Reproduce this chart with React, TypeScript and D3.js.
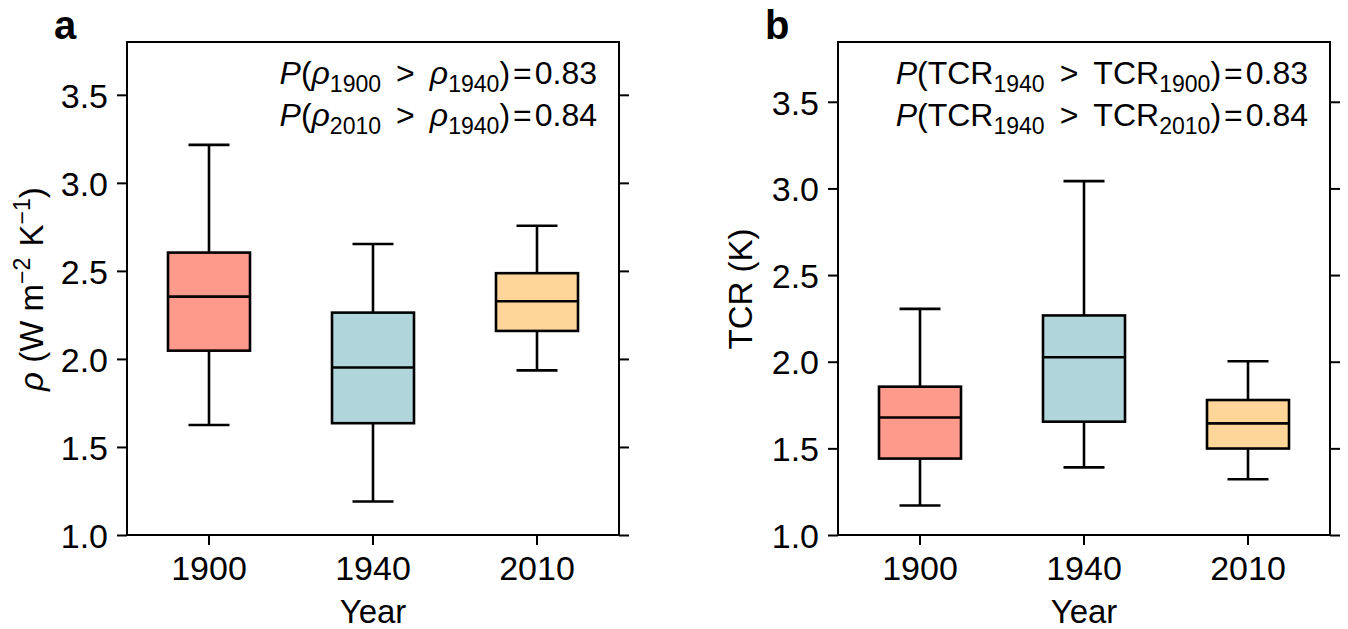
import React, { useEffect, useRef } from 'react';
import * as d3 from 'd3';

const years = ['1900', '1940', '2010'];
const boxColors = ['#FE9A8B', '#B0D6DC', '#FFD699'];
const yTicks = [1.0, 1.5, 2.0, 2.5, 3.0, 3.5];

// panel a: rho (W m-2 K-1), whisker ends, quartiles, median
const rhoLow = [1.625, 1.19, 1.935];
const rhoQ1 = [2.047, 1.635, 2.159];
const rhoMedian = [2.354, 1.951, 2.328];
const rhoQ3 = [2.604, 2.263, 2.487];
const rhoHigh = [3.216, 2.653, 2.756];

// panel b: TCR (K)
const tcrLow = [1.17, 1.39, 1.322];
const tcrQ1 = [1.441, 1.654, 1.499];
const tcrMedian = [1.678, 2.026, 1.644];
const tcrQ3 = [1.856, 2.267, 1.779];
const tcrHigh = [2.305, 3.042, 2.003];

const FONT = 'Liberation Sans, Arial, Helvetica, sans-serif';

// rich text parts: t = text, i = italic, sub / sup, dx = extra gap
const rhoLabel = [
  { t: 'ρ', i: true }, { t: ' (W m' }, { t: '−2', sup: true }, { t: ' K', dx: 2 }, { t: '−1', sup: true }, { t: ')' }
];
const tcrLabel = [{ t: 'TCR (K)' }];

const rhoNotes = [
  [{ t: 'P', i: true }, { t: '(' }, { t: 'ρ', i: true }, { t: '1900', sub: true }, { t: '>', dx: 15 },
   { t: 'ρ', i: true, dx: 15 }, { t: '1940', sub: true }, { t: ')' }, { t: '=', dx: 3 }, { t: '0.83', dx: 3 }],
  [{ t: 'P', i: true }, { t: '(' }, { t: 'ρ', i: true }, { t: '2010', sub: true }, { t: '>', dx: 15 },
   { t: 'ρ', i: true, dx: 15 }, { t: '1940', sub: true }, { t: ')' }, { t: '=', dx: 3 }, { t: '0.84', dx: 3 }]
];
const tcrNotes = [
  [{ t: 'P', i: true }, { t: '(TCR' }, { t: '1940', sub: true }, { t: '>', dx: 15 },
   { t: 'TCR', dx: 15 }, { t: '1900', sub: true }, { t: ')' }, { t: '=', dx: 3 }, { t: '0.83', dx: 3 }],
  [{ t: 'P', i: true }, { t: '(TCR' }, { t: '1940', sub: true }, { t: '>', dx: 15 },
   { t: 'TCR', dx: 15 }, { t: '2010', sub: true }, { t: ')' }, { t: '=', dx: 3 }, { t: '0.84', dx: 3 }]
];

function addRich(text, parts, size, subScale) {
  let shift = 0;
  parts.forEach(p => {
    const target = p.sub ? size * 0.24 : p.sup ? -size * 0.4 : 0;
    const ts = text.append('tspan')
      .attr('dy', target - shift)
      .style('font-size', (p.sub || p.sup ? size * subScale : size) + 'px')
      .text(p.t);
    if (p.i) ts.style('font-style', 'italic');
    if (p.dx) ts.attr('dx', p.dx);
    shift = target;
  });
}

function drawPanel(svg, o) {
  const top = 42, bottom = 535;
  const g = svg.append('g');

  const x = d3.scaleBand().domain(years).range([o.left, o.right]);
  const y = d3.scaleLinear().domain([1, o.yMax]).range([bottom, top]);
  const bw = x.bandwidth();

  // boxes
  years.forEach((yr, i) => {
    const cx = x(yr) + bw / 2;
    const bx = g.append('g').attr('stroke', '#000').attr('stroke-width', 2.6);
    bx.append('line').attr('x1', cx).attr('x2', cx).attr('y1', y(o.low[i])).attr('y2', y(o.q1[i]));
    bx.append('line').attr('x1', cx).attr('x2', cx).attr('y1', y(o.q3[i])).attr('y2', y(o.high[i]));
    bx.append('line').attr('x1', cx - bw * 0.125).attr('x2', cx + bw * 0.125).attr('y1', y(o.low[i])).attr('y2', y(o.low[i]));
    bx.append('line').attr('x1', cx - bw * 0.125).attr('x2', cx + bw * 0.125).attr('y1', y(o.high[i])).attr('y2', y(o.high[i]));
    bx.append('rect')
      .attr('x', cx - bw * 0.25).attr('width', bw * 0.5)
      .attr('y', y(o.q3[i])).attr('height', y(o.q1[i]) - y(o.q3[i]))
      .attr('fill', boxColors[i]);
    bx.append('line').attr('x1', cx - bw * 0.25).attr('x2', cx + bw * 0.25).attr('y1', y(o.median[i])).attr('y2', y(o.median[i]));
  });

  // axes
  const left = g.append('g').attr('transform', `translate(${o.left},0)`)
    .call(d3.axisLeft(y).tickValues(yTicks).tickFormat(d3.format('.1f')).tickSize(10).tickPadding(9));
  const right = g.append('g').attr('transform', `translate(${o.right},0)`)
    .call(d3.axisRight(y).tickValues(yTicks).tickFormat(() => '').tickSize(10));
  const bot = g.append('g').attr('transform', `translate(0,${bottom})`)
    .call(d3.axisBottom(x).tickSize(10).tickPadding(11));
  [left, right, bot].forEach(a => {
    a.attr('font-size', null).attr('font-family', null);
    a.select('.domain').remove();
    a.selectAll('line').attr('stroke', '#000').attr('stroke-width', 2);
    a.selectAll('text').attr('fill', '#000').style('font-size', '34px');
  });
  left.selectAll('text').attr('dy', '0.36em');

  g.append('rect')
    .attr('x', o.left).attr('y', top)
    .attr('width', o.right - o.left).attr('height', bottom - top)
    .attr('fill', 'none').attr('stroke', '#000').attr('stroke-width', 2);

  g.append('text')
    .attr('x', (o.left + o.right) / 2).attr('y', 623)
    .attr('text-anchor', 'middle').style('font-size', '33px')
    .text('Year');

  const yl = g.append('text')
    .attr('transform', `translate(${o.labelX},289) rotate(-90)`)
    .attr('text-anchor', 'middle');
  addRich(yl, o.label, 33, 0.7);

  o.notes.forEach((n, k) => {
    const t = g.append('text')
      .attr('x', o.right - 22).attr('y', 84 + k * 42)
      .attr('text-anchor', 'end');
    addRich(t, n, 32, 0.72);
  });

  g.append('text')
    .attr('x', o.letterX).attr('y', 39)
    .style('font-size', '40px').style('font-weight', 'bold')
    .text(o.letter);
}

function App() {
  const ref = useRef(null);

  useEffect(() => {
    const svg = d3.select(ref.current);
    svg.selectAll('*').remove();

    drawPanel(svg, {
      left: 127, right: 619, yMax: 3.8,
      low: rhoLow, q1: rhoQ1, median: rhoMedian, q3: rhoQ3, high: rhoHigh,
      label: rhoLabel, labelX: 43, notes: rhoNotes, letter: 'a', letterX: 54
    });
    drawPanel(svg, {
      left: 838, right: 1330, yMax: 3.845,
      low: tcrLow, q1: tcrQ1, median: tcrMedian, q3: tcrQ3, high: tcrHigh,
      label: tcrLabel, labelX: 752, notes: tcrNotes, letter: 'b', letterX: 765
    });
  }, []);

  return (
    <svg
      ref={ref}
      width={1348}
      height={629}
      style={{ position: 'absolute', left: 0, top: 0, background: '#fff', fontFamily: FONT }}
    />
  );
}

export default App;
